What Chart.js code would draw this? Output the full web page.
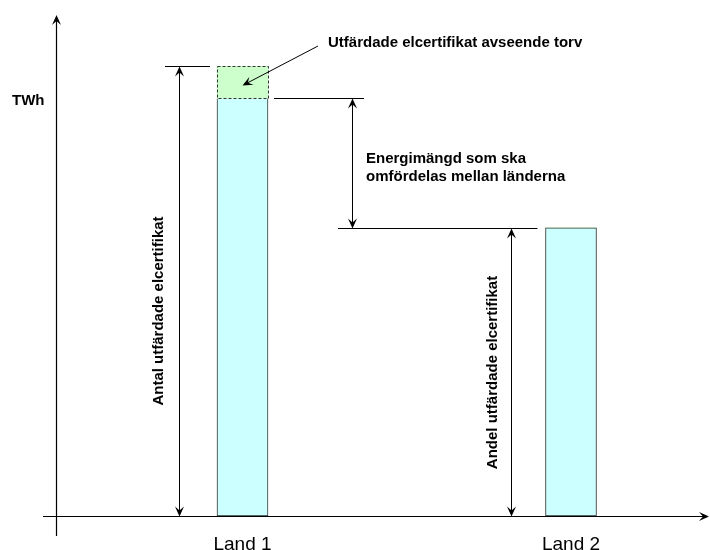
<!DOCTYPE html>
<html>
<head>
<meta charset="utf-8">
<script src="https://cdn.jsdelivr.net/npm/chart.js@4.4.0/dist/chart.umd.min.js"></script>
<style>
  html, body { margin: 0; padding: 0; background: #fff; }
  #wrap { width: 710px; height: 550px; }
</style>
</head>
<body>
<div id="wrap"><canvas id="chart" width="710" height="550"></canvas></div>
<script>
// Data (TWh, arbitrary units)
const categories = ["Land 1", "Land 2"];
const andelValues = [100, 69];   // andel utfärdade elcertifikat
const torvValues = [7.7, 0];     // utfärdade elcertifikat avseende torv
const yMax = 120;

Chart.defaults.font.family = "'Liberation Sans', Arial, sans-serif";
Chart.defaults.color = "#000";

function arrowHead(ctx, x, y, angle) {
  // stealth style arrow head, tip at (x, y)
  const len = 10, half = 4.5, notch = 6;
  ctx.save();
  ctx.translate(x, y);
  ctx.rotate(angle);
  ctx.beginPath();
  ctx.moveTo(0, 0);
  ctx.lineTo(-len, -half);
  ctx.lineTo(-notch, 0);
  ctx.lineTo(-len, half);
  ctx.closePath();
  ctx.fillStyle = "#000";
  ctx.fill();
  ctx.restore();
}

function line(ctx, x1, y1, x2, y2) {
  ctx.beginPath();
  ctx.moveTo(x1, y1);
  ctx.lineTo(x2, y2);
  ctx.stroke();
}

function vArrow(ctx, x, yTop, yBottom) {
  line(ctx, x, yTop + 4, x, yBottom - 4);
  arrowHead(ctx, x, yTop, -Math.PI / 2);
  arrowHead(ctx, x, yBottom, Math.PI / 2);
}

const annotations = {
  id: "annotations",
  afterDraw(chart) {
    const ctx = chart.ctx;
    const y = chart.scales.y;
    const bars = chart.getDatasetMeta(0).data;
    const b1 = bars[0], b2 = bars[1];
    const left1 = b1.x - b1.width / 2, right1 = b1.x + b1.width / 2;
    const left2 = b2.x - b2.width / 2;
    const zero = Math.round(y.getPixelForValue(0)) + 0.5;
    const total1 = Math.round(y.getPixelForValue(andelValues[0] + torvValues[0])) + 0.5;
    const top1 = Math.round(y.getPixelForValue(andelValues[0])) + 0.5;
    const top2 = Math.round(y.getPixelForValue(andelValues[1])) + 0.5;

    ctx.save();
    ctx.strokeStyle = "#000";
    ctx.lineWidth = 1.2;

    // axes with arrows
    line(ctx, 56.5, 536, 56.5, 20);
    arrowHead(ctx, 56.5, 15, -Math.PI / 2);
    line(ctx, 43, zero, 704, zero);
    arrowHead(ctx, 709, zero, 0);

    // dashed torv box
    ctx.lineWidth = 1;
    ctx.strokeStyle = "#333";
    ctx.setLineDash([3, 2]);
    ctx.strokeRect(Math.round(left1) + 0.5, total1, Math.round(right1 - left1), top1 - total1);
    ctx.setLineDash([]);

    ctx.strokeStyle = "#000";
    // level lines
    line(ctx, left1 - 52, total1, left1 - 7, total1);
    line(ctx, right1 + 6, top1, right1 + 96, top1);
    line(ctx, right1 + 70, top2, left2 - 8, top2);

    // dimension arrows
    vArrow(ctx, Math.round(left1 - 38) + 0.5, total1, zero);
    vArrow(ctx, Math.round(right1 + 84) + 0.5, top1, top2);
    vArrow(ctx, Math.round(left2 - 35) + 0.5, top2, zero);

    // pointer arrow to the torv box
    const tx = b1.x, ty = (total1 + top1) / 2 + 3;
    const sx = 318, sy = 46;
    const ang = Math.atan2(ty - sy, tx - sx);
    line(ctx, sx, sy, tx - 6 * Math.cos(ang), ty - 6 * Math.sin(ang));
    arrowHead(ctx, tx, ty, ang);

    // texts
    ctx.fillStyle = "#000";
    ctx.font = "bold 15px 'Liberation Sans', Arial, sans-serif";
    ctx.textAlign = "left";
    ctx.textBaseline = "alphabetic";
    ctx.fillText("TWh", 12, 105);
    ctx.fillText("Utfärdade elcertifikat avseende torv", 328, 47);
    ctx.fillText("Energimängd som ska", 366, 163);
    ctx.fillText("omfördelas mellan länderna", 366, 181);

    ctx.textAlign = "center";
    ctx.textBaseline = "middle";
    ctx.save();
    ctx.translate(159, 311);
    ctx.rotate(-Math.PI / 2);
    ctx.fillText("Antal utfärdade elcertifikat", 0, 0);
    ctx.restore();
    ctx.save();
    ctx.translate(493, (top2 + zero) / 2);
    ctx.rotate(-Math.PI / 2);
    ctx.fillText("Andel utfärdade elcertifikat", 0, 0);
    ctx.restore();

    ctx.restore();
  }
};

new Chart(document.getElementById("chart"), {
  type: "bar",
  data: {
    labels: categories,
    datasets: [
      {
        label: "Andel utfärdade elcertifikat",
        data: andelValues,
        backgroundColor: "#ccffff",
        borderColor: "#333",
        borderWidth: 1,
        borderSkipped: (c) => (c.dataIndex === 0 ? "top" : false),
        barThickness: 51,
        clip: false,
      },
      {
        label: "Utfärdade elcertifikat avseende torv",
        data: torvValues,
        backgroundColor: "#ccffcc",
        borderWidth: 0,
        barThickness: 51,
        clip: false,
      },
    ],
  },
  options: {
    responsive: false,
    animation: false,
    layout: { padding: { left: 242.5, right: 139, top: 15, bottom: 0 } },
    plugins: { legend: { display: false }, tooltip: { enabled: false } },
    scales: {
      x: {
        stacked: true,
        offset: false,
        grid: { display: false, drawTicks: false },
        border: { display: false },
        ticks: { font: { size: 19 }, color: "#000", padding: 17, maxRotation: 0, autoSkip: false },
        afterFit: (s) => { s.height = 34; },
      },
      y: {
        stacked: true,
        display: false,
        min: 0,
        max: yMax,
      },
    },
  },
  plugins: [annotations],
});
</script>
</body>
</html>
